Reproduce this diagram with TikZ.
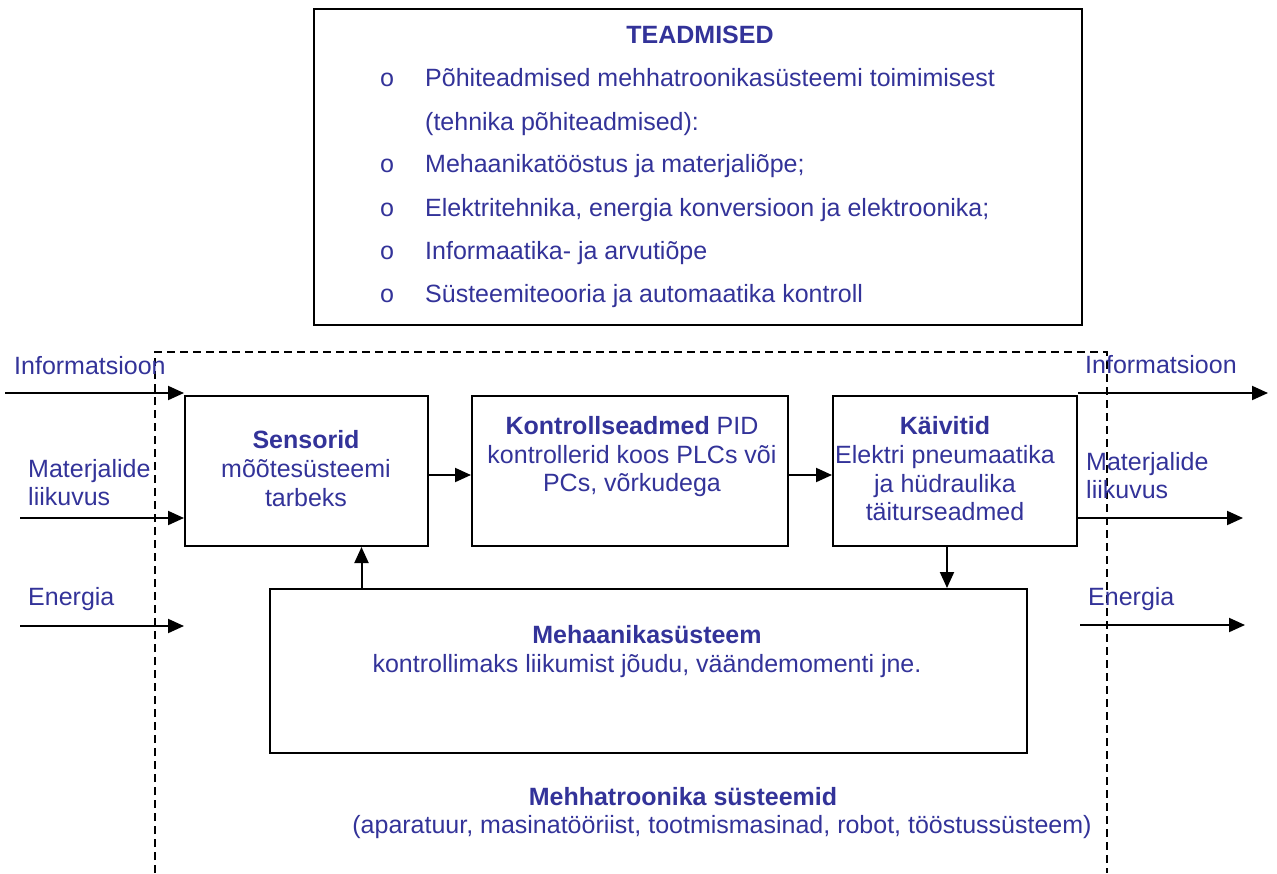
\documentclass[tikz,border=0pt]{standalone}
\usepackage{fontspec}
\setmainfont{Liberation Sans}
\newfontfamily\bulfont{Liberation Mono}
\usetikzlibrary{arrows.meta}
\definecolor{tblue}{HTML}{333399}
\begin{document}
\begin{tikzpicture}[x=1pt,y=-1pt,
  box/.style={draw=black, line width=2pt, inner sep=0pt, fill=none},
  txt/.style={text=tblue, font=\fontsize{25}{29}\selectfont, inner sep=0pt, anchor=base},
  txtl/.style={txt, anchor=base west},
  bul/.style={txt, font=\bulfont\fontsize{25}{29}\selectfont},
  arr/.style={line width=2pt, -{Triangle[length=16pt,width=14pt]}},
  dashbox/.style={line width=1.6pt, dash pattern=on 8pt off 5pt}]
\useasboundingbox (0,0) rectangle (1277,873);

% dashed system boundary
\draw[dashbox] (155,873) -- (155,352) -- (1107,352) -- (1107,873);

% knowledge box
\node[box, line width=2.4pt, minimum width=768pt, minimum height=316pt] (know) at (698,167) {};
\node[txt] (kt) at (700,43) {\textbf{TEADMISED}};
\node[bul] (b1) at (387,86) {o};
\node[txtl] (k1) at (425,86) {Põhiteadmised mehhatroonikasüsteemi toimimisest};
\node[txtl] (k1b) at (425,130) {(tehnika põhiteadmised):};
\node[bul] (b2) at (387,172) {o};
\node[txtl] (k2) at (425,172) {Mehaanikatööstus ja materjaliõpe;};
\node[bul] (b3) at (387,216) {o};
\node[txtl] (k3) at (425,216) {Elektritehnika, energia konversioon ja elektroonika;};
\node[bul] (b4) at (387,259) {o};
\node[txtl] (k4) at (425,259) {Informaatika- ja arvutiõpe};
\node[bul] (b5) at (387,302) {o};
\node[txtl] (k5) at (425,302) {Süsteemiteooria ja automaatika kontroll};

% blocks
\node[box, minimum width=243pt, minimum height=150pt] (sens) at (306.5,471) {};
\node[box, minimum width=316pt, minimum height=150pt] (kont) at (630,471) {};
\node[box, minimum width=244pt, minimum height=150pt] (kaiv) at (955,471) {};
\node[box, minimum width=757pt, minimum height=164pt] (mech) at (648.5,671) {};

\node[txt] (s1) at (306,448) {\textbf{Sensorid}};
\node[txt] (s2) at (306,477) {mõõtesüsteemi};
\node[txt] (s3) at (306,506) {tarbeks};

\node[txt] (c1) at (632,434) {\textbf{Kontrollseadmed} PID};
\node[txt] (c2) at (632,463) {kontrollerid koos PLCs või};
\node[txt] (c3) at (632,491) {PCs, võrkudega};

\node[txt] (a1) at (945,434) {\textbf{Käivitid}};
\node[txt] (a2) at (945,463) {Elektri pneumaatika};
\node[txt] (a3) at (945,492) {ja hüdraulika};
\node[txt] (a4) at (945,520) {täiturseadmed};

\node[txt] (m1) at (647,643) {\textbf{Mehaanikasüsteem}};
\node[txt] (m2) at (647,672) {kontrollimaks liikumist jõudu, väändemomenti jne.};

\node[txt] (t1) at (683,805) {\textbf{Mehhatroonika süsteemid}};
\node[txt] (t2) at (722,833) {(aparatuur, masinatööriist, tootmismasinad, robot, tööstussüsteem)};

% side labels
\node[txtl] (li) at (14,374) {Informatsioon};
\node[txtl] (lm1) at (28,477) {Materjalide};
\node[txtl] (lm2) at (28,505) {liikuvus};
\node[txtl] (le) at (28,605) {Energia};
\node[txtl] (ri) at (1085,373) {Informatsioon};
\node[txtl] (rm1) at (1086,470) {Materjalide};
\node[txtl] (rm2) at (1086,498) {liikuvus};
\node[txtl] (re) at (1088,605) {Energia};

% free ends
\coordinate (inI) at (5,393);
\coordinate (inM) at (20,518);
\coordinate (inE) at (20,626);
\coordinate (outI) at (1268,393);
\coordinate (outM) at (1243,518);
\coordinate (outE) at (1245,625);
\coordinate (eStart) at (1080,625);

% connectors
\draw[arr] (inI) -- (inI -| sens.west);
\draw[arr] (inM) -- (inM -| sens.west);
\draw[arr] (inE) -- (inE -| sens.west);
\draw[arr] (outI -| kaiv.east) -- (outI);
\draw[arr] (outM -| kaiv.east) -- (outM);
\draw[arr] (eStart) -- (outE);

\draw[arr] ([yshift=-4pt]sens.east) -- ([yshift=-4pt]kont.west);
\draw[arr] ([yshift=-4pt]kont.east) -- ([yshift=-4pt]kaiv.west);
\draw[arr] ([xshift=-8pt]kaiv.south) -- ([xshift=-8pt]kaiv.south |- mech.north);
\draw[arr] ([xshift=55pt]sens.south |- mech.north) -- ([xshift=55pt]sens.south);
\end{tikzpicture}
\end{document}
